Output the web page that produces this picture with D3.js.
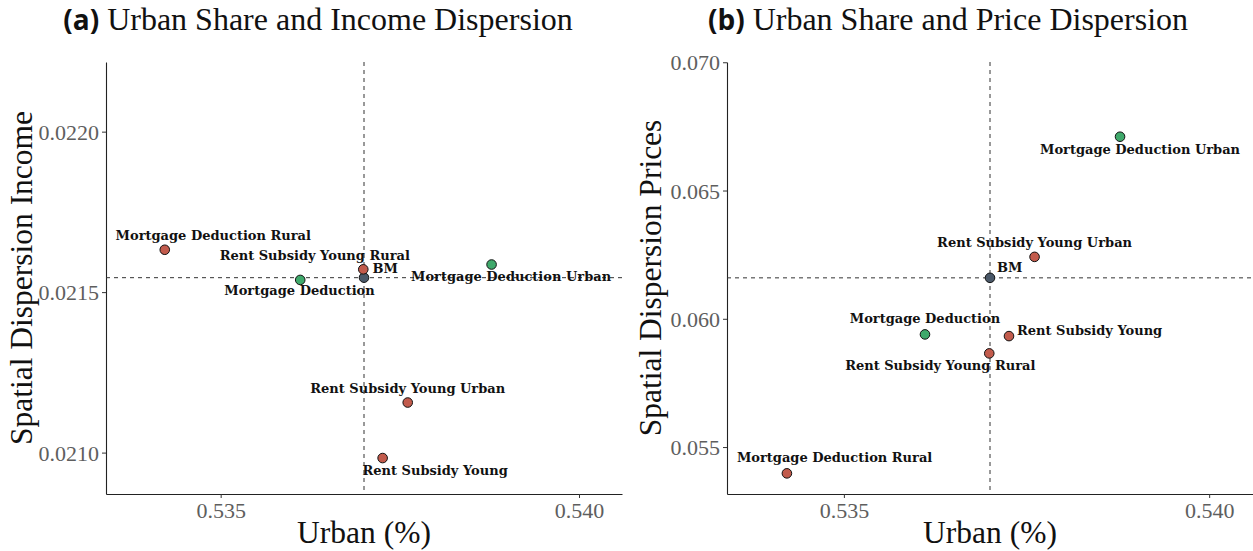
<!DOCTYPE html>
<html lang="en">
<head>
<meta charset="UTF-8">
<title>Urban Share and Dispersion</title>
<script src="https://d3js.org/d3.v7.min.js"></script>
<style>
  body { margin: 0; background: white; }
  .tick-label { font: 22px 'Liberation Serif', serif; fill: #5e5e5e; }
  .axis-title { font: 31.5px 'Liberation Serif', serif; fill: #111; }
  .pt-label { font: bold 13px 'DejaVu Serif', serif; fill: #111; }
  .title { font: 32px 'Liberation Serif', serif; fill: #111; }
</style>
</head>
<body>
<div id="chart"></div>
<script>
// data
const labels = ["BM", "Mortgage Deduction", "Mortgage Deduction Rural", "Mortgage Deduction Urban",
                "Rent Subsidy Young", "Rent Subsidy Young Rural", "Rent Subsidy Young Urban"];
const groups = ["benchmark", "green", "red", "green", "red", "red", "red"];
const urbanShare = [0.53700, 0.53611, 0.53422, 0.53878, 0.53726, 0.53699, 0.53761];
const incomeDispersion = [0.021545, 0.021538, 0.021632, 0.021586, 0.020983, 0.021571, 0.021156];
const priceDispersion = [0.061596, 0.059391, 0.053975, 0.067097, 0.059325, 0.058651, 0.062414];

const urbanTicks = [0.535, 0.540];
const incomeTicks = [0.0210, 0.0215, 0.0220];
const priceTicks = [0.055, 0.060, 0.065, 0.070];

// label placement (repel result), pixels from the point: [dx, dy, anchor]
const nudgeIncome = [[8.5, -5, "start"], [-0.7, 15, "middle"], [48.5, -9.7, "middle"], [19.5, 16.7, "middle"],
                     [52.5, 16.7, "middle"], [-48.5, -9.3, "middle"], [0, -10, "middle"]];
const nudgePrice = [[7, -6, "start"], [0, -11, "middle"], [47.7, -11.6, "middle"], [20, 16.8, "middle"],
                    [8, -1, "start"], [-49, 16.7, "middle"], [0, -10, "middle"]];

const colors = { benchmark: "#4a5868", green: "#3fa96b", red: "#c25b4c" };

const W = 1253, H = 551;
const svg = d3.select("#chart").append("svg").attr("width", W).attr("height", H);

function panel(o) {
  const x = d3.scaleLinear().domain([0.5334, 0.5406]).range([o.left, o.right]);
  const y = d3.scaleLinear().domain(o.ydomain).range([o.bottom, o.top]);
  const g = svg.append("g");

  // title
  const t = g.append("text").attr("class", "title")
    .attr("x", o.titleX).attr("y", 30).attr("text-anchor", "middle");
  t.append("tspan").attr("font-family", "'Open Sans', sans-serif").attr("font-weight", "bold")
    .attr("font-size", 28).text(o.tag);
  t.append("tspan").text(" " + o.title);

  // axes
  const xa = g.append("g").attr("transform", "translate(0," + o.bottom + ")")
    .call(d3.axisBottom(x).tickValues(urbanTicks).tickFormat(d3.format(".3f"))
      .tickSizeInner(4).tickSizeOuter(0).tickPadding(4));
  const ya = g.append("g").attr("transform", "translate(" + o.left + ",0)")
    .call(d3.axisLeft(y).tickValues(o.yticks).tickFormat(d3.format(o.yfmt))
      .tickSizeInner(4).tickSizeOuter(0).tickPadding(3));
  [xa, ya].forEach(a => {
    a.select(".domain").attr("stroke", "#222").attr("stroke-width", 1.1);
    a.selectAll(".tick line").attr("stroke", "#333");
    a.selectAll(".tick text").attr("class", "tick-label").attr("fill", null);
  });
  ya.selectAll(".tick text").attr("dy", "0.35em");

  // axis titles
  g.append("text").attr("class", "axis-title").attr("text-anchor", "middle")
    .attr("x", (o.left + o.right) / 2).attr("y", 543).text("Urban (%)");
  g.append("text").attr("class", "axis-title").attr("text-anchor", "middle")
    .attr("transform", "translate(" + o.ytitleX + "," + (o.top + o.bottom) / 2 + ") rotate(-90)")
    .text(o.ytitle);

  // benchmark reference lines
  const bx = x(urbanShare[0]), by = y(o.values[0]);
  g.append("line").attr("x1", bx).attr("x2", bx).attr("y1", o.top).attr("y2", o.bottom)
    .attr("stroke", "#333").attr("stroke-width", 1).attr("stroke-dasharray", "4,4");
  g.append("line").attr("x1", o.left).attr("x2", o.right).attr("y1", by).attr("y2", by)
    .attr("stroke", "#333").attr("stroke-width", 1).attr("stroke-dasharray", "4,4");

  const idx = d3.range(labels.length);
  g.selectAll("circle").data(idx).enter().append("circle")
    .attr("cx", i => x(urbanShare[i])).attr("cy", i => y(o.values[i]))
    .attr("r", 4.8).attr("fill", i => colors[groups[i]])
    .attr("stroke", "#111").attr("stroke-width", 1);

  g.selectAll(".pt-label").data(idx).enter().append("text").attr("class", "pt-label")
    .attr("x", i => x(urbanShare[i]) + o.nudge[i][0])
    .attr("y", i => y(o.values[i]) + o.nudge[i][1])
    .attr("text-anchor", i => o.nudge[i][2])
    .attr("font-size", i => i === 0 ? 15 : 13)
    .text(i => labels[i]);
}

panel({
  left: 106, right: 622, top: 62, bottom: 494,
  ydomain: [0.020871, 0.022217], yticks: incomeTicks, yfmt: ".4f",
  values: incomeDispersion, nudge: nudgeIncome,
  tag: "(a)", title: "Urban Share and Income Dispersion", titleX: 318,
  ytitle: "Spatial Dispersion Income", ytitleX: 32
});
panel({
  left: 727, right: 1253, top: 62, bottom: 494,
  ydomain: [0.05317, 0.07001], yticks: priceTicks, yfmt: ".3f",
  values: priceDispersion, nudge: nudgePrice,
  tag: "(b)", title: "Urban Share and Price Dispersion", titleX: 948,
  ytitle: "Spatial Dispersion Prices", ytitleX: 661
});
</script>
</body>
</html>
